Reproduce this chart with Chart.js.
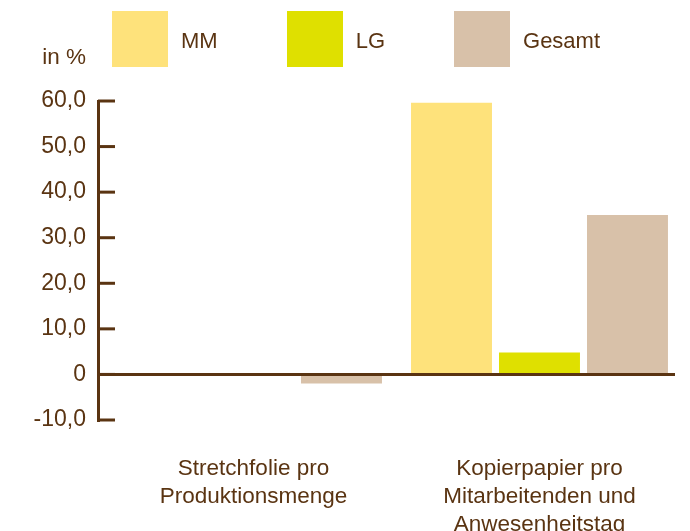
<!DOCTYPE html>
<html>
<head>
<meta charset="utf-8">
<script src="https://cdn.jsdelivr.net/npm/chart.js"></script>
<style>
  body { margin: 0; background: #fff; }
  #wrap { position: relative; width: 690px; height: 531px; }
  #legende { position: absolute; left: 112px; top: 11px; display: flex; gap: 69px;
    font-family: 'Liberation Sans', Arial, sans-serif; font-size: 22px; color: #5a3412; }
  #legende div { display: flex; align-items: center; }
  #legende span.box { width: 56px; height: 56px; margin-right: 13px; }
  #legende span.txt { position: relative; top: 2px; }
</style>
</head>
<body>
<div id="wrap">
  <canvas id="grafico" width="690" height="531"></canvas>
  <div id="legende"></div>
</div>
<script>
const kategorien = [
    ['Stretchfolie pro', 'Produktionsmenge'],
    ['Kopierpapier pro', 'Mitarbeitenden und', 'Anwesenheitstag']
];
const serien = ['MM', 'LG', 'Gesamt'];
const werteMM = [0, 59.6];
const werteLG = [0, 4.8];
const werteGesamt = [-2.0, 35.0];
const yTicks = [-10, 0, 10, 20, 30, 40, 50, 60];

const farben = ['#fee27b', '#dfe000', '#d8c1a9'];
const braun = '#5a3412';
const schrift = "'Liberation Sans', Arial, sans-serif";

// legende als html
const legende = document.querySelector('#legende');
serien.forEach((s, i) => {
    legende.innerHTML += `<div><span class="box" style="background:${farben[i]}"></span><span class="txt">${s}</span></div>`;
});

const punkte = arr => arr.map((v, i) => ({ x: i, y: v }));

// kleine striche nach innen + "in %"
const achsenDeko = {
    id: 'achsenDeko',
    afterDraw(chart) {
        const { ctx, chartArea, scales } = chart;
        ctx.save();
        ctx.strokeStyle = braun;
        ctx.lineWidth = 3;
        yTicks.forEach(v => {
            const y = scales.y.getPixelForValue(v);
            ctx.beginPath();
            ctx.moveTo(chartArea.left, y);
            ctx.lineTo(chartArea.left + 17, y);
            ctx.stroke();
        });
        ctx.fillStyle = braun;
        ctx.font = `22.5px ${schrift}`;
        ctx.textAlign = 'right';
        ctx.textBaseline = 'alphabetic';
        ctx.fillText('in %', chartArea.left - 12, 64);
        ctx.restore();
    }
};

const grafi = document.querySelector('#grafico');
new Chart(grafi, {
    type: 'bar',
    data: {
        datasets: [
            { label: serien[0], data: punkte(werteMM), backgroundColor: farben[0] },
            { label: serien[1], data: punkte(werteLG), backgroundColor: farben[1] },
            { label: serien[2], data: punkte(werteGesamt), backgroundColor: farben[2] }
        ]
    },
    options: {
        responsive: false,
        animation: false,
        devicePixelRatio: 1,
        categoryPercentage: 0.923,
        barPercentage: 0.92,
        layout: { padding: { top: 101, right: 15, left: 0, bottom: 0 } },
        plugins: { legend: { display: false }, tooltip: { enabled: false } },
        scales: {
            x: {
                type: 'linear',
                offset: false,
                min: -0.5437,
                max: 1.4738,
                grid: { display: false, drawTicks: false },
                border: { display: false },
                afterBuildTicks: scale => { scale.ticks = kategorien.map((k, i) => ({ value: i })); },
                afterFit: scale => { scale.height = 111; },
                ticks: {
                    padding: 35,
                    color: braun,
                    font: { family: schrift, size: 22.5, lineHeight: 1.244 },
                    callback: v => kategorien[v]
                }
            },
            y: {
                min: -10,
                max: 60,
                z: 1,
                afterFit: scale => { scale.width = 98; },
                afterBuildTicks: scale => { scale.ticks = yTicks.map(v => ({ value: v })); },
                grid: {
                    drawTicks: false,
                    lineWidth: 3,
                    color: c => c.tick && c.tick.value === 0 ? braun : 'transparent'
                },
                border: { display: true, color: braun, width: 3 },
                ticks: {
                    padding: 12,
                    color: braun,
                    font: { family: schrift, size: 23 },
                    callback: v => v === 0 ? '0' : v.toFixed(1).replace('.', ',')
                }
            }
        }
    },
    plugins: [achsenDeko]
});
</script>
</body>
</html>
